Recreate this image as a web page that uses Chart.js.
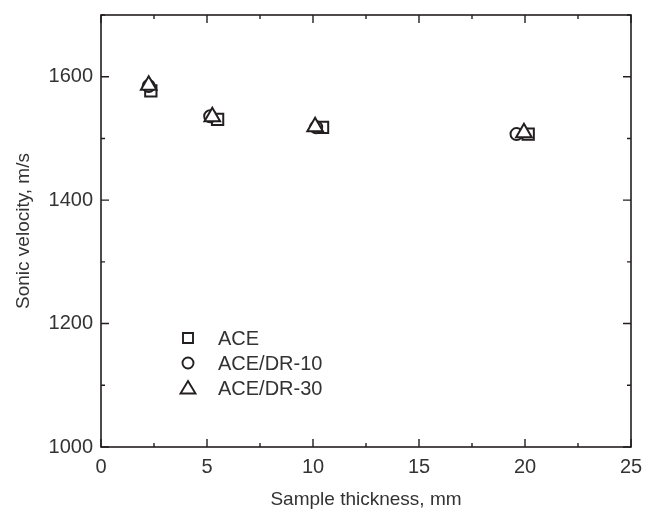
<!DOCTYPE html>
<html>
<head>
<meta charset="utf-8">
<script src="https://cdn.jsdelivr.net/npm/chart.js@4"></script>
<style>
  html, body { margin: 0; padding: 0; background: #fff; }
  #wrap { width: 648px; height: 511px; }
</style>
</head>
<body>
<div id="wrap"><canvas id="myChart" width="648" height="511"></canvas></div>
<script>
// values
const aceX = [2.35, 5.5, 10.45, 20.15];
const aceY = [1577, 1531, 1518, 1507];
const dr10X = [2.25, 5.15, 10.15, 19.6];
const dr10Y = [1585, 1536, 1518, 1507];
const dr30X = [2.25, 5.25, 10.1, 19.95];
const dr30Y = [1586, 1535, 1519, 1509];

const xTicks = [0, 5, 10, 15, 20, 25];
const xMinor = [2.5, 7.5, 12.5, 17.5, 22.5];
const yTicks = [1000, 1200, 1400, 1600];
const yMinor = [1100, 1300, 1500, 1700];

const seriesNames = ['ACE', 'ACE/DR-10', 'ACE/DR-30'];

const ink = '#231f20';
const fontFamily = '"Liberation Sans", Arial, sans-serif';

function toPoints(xs, ys) {
    return xs.map((x, i) => ({ x: x, y: ys[i] }));
}

// frame + inward ticks on all four sides
const framePlugin = {
    id: 'frame',
    afterDatasetsDraw(chart) {
        const ctx = chart.ctx;
        const a = chart.chartArea;
        const xs = chart.scales.x;
        const ys = chart.scales.y;
        ctx.save();
        ctx.strokeStyle = ink;
        ctx.lineWidth = 1.6;
        ctx.strokeRect(a.left, a.top, a.right - a.left, a.bottom - a.top);
        ctx.lineWidth = 1.4;
        ctx.beginPath();
        const tickX = (v, len) => {
            const px = xs.getPixelForValue(v);
            ctx.moveTo(px, a.bottom); ctx.lineTo(px, a.bottom - len);
            ctx.moveTo(px, a.top); ctx.lineTo(px, a.top + len);
        };
        const tickY = (v, len) => {
            const py = ys.getPixelForValue(v);
            ctx.moveTo(a.left, py); ctx.lineTo(a.left + len, py);
            ctx.moveTo(a.right, py); ctx.lineTo(a.right - len, py);
        };
        xTicks.forEach(v => tickX(v, 8));
        xMinor.forEach(v => tickX(v, 4));
        yTicks.forEach(v => tickY(v, 8));
        yMinor.forEach(v => tickY(v, 4));
        ctx.stroke();
        ctx.restore();
    }
};

// legend in the lower left of the plot
const legendPlugin = {
    id: 'innerLegend',
    afterDraw(chart) {
        const ctx = chart.ctx;
        const a = chart.chartArea;
        const mx = a.left + 87;
        const tx = a.left + 117;
        ctx.save();
        ctx.font = '20px ' + fontFamily;
        ctx.textBaseline = 'middle';
        ctx.fillStyle = '#333';
        chart.data.datasets.forEach((ds, i) => {
            const y = a.bottom - 109 + i * 25;
            ctx.strokeStyle = ink;
            ctx.lineWidth = 1.9;
            ctx.beginPath();
            if (ds.pointStyle === 'rect') {
                ctx.rect(mx - 5, y - 5, 10, 10);
            } else if (ds.pointStyle === 'circle') {
                ctx.arc(mx, y, 5.5, 0, Math.PI * 2);
            } else {
                ctx.moveTo(mx, y - 7);
                ctx.lineTo(mx + 7.5, y + 5.5);
                ctx.lineTo(mx - 7.5, y + 5.5);
                ctx.closePath();
            }
            ctx.stroke();
            ctx.fillText(ds.label, tx, y + 1);
        });
        ctx.restore();
    }
};

const ctx = document.getElementById('myChart');

new Chart(ctx, {
    type: 'scatter',
    data: {
        datasets: [
            {
                label: seriesNames[0],
                data: toPoints(aceX, aceY),
                pointStyle: 'rect',
                pointRadius: 8,
                borderColor: ink,
                backgroundColor: '#fff',
                borderWidth: 2,
                order: 2
            },
            {
                label: seriesNames[1],
                data: toPoints(dr10X, dr10Y),
                pointStyle: 'circle',
                pointRadius: 6,
                borderColor: ink,
                backgroundColor: '#fff',
                borderWidth: 2,
                order: 1
            },
            {
                label: seriesNames[2],
                data: toPoints(dr30X, dr30Y),
                pointStyle: 'triangle',
                pointRadius: 9,
                borderColor: ink,
                backgroundColor: '#fff',
                borderWidth: 2,
                order: 0
            }
        ]
    },
    options: {
        responsive: false,
        animation: false,
        layout: { padding: { top: 15, right: 17, left: 0, bottom: 0 } },
        plugins: {
            legend: { display: false },
            tooltip: { enabled: false }
        },
        scales: {
            x: {
                type: 'linear',
                min: 0,
                max: 25,
                afterBuildTicks: scale => { scale.ticks = xTicks.map(v => ({ value: v })); },
                afterFit: scale => {
                    scale.height = 64;
                    scale.paddingLeft = 0;
                    scale.paddingRight = 0;
                },
                grid: { display: false, drawTicks: false },
                border: { display: false },
                ticks: {
                    color: '#333',
                    padding: 8,
                    maxRotation: 0,
                    callback: v => String(v),
                    font: { family: fontFamily, size: 20 }
                },
                title: {
                    display: true,
                    text: 'Sample thickness, mm',
                    color: '#333',
                    padding: { top: 8, bottom: 0 },
                    font: { family: fontFamily, size: 19 }
                }
            },
            y: {
                type: 'linear',
                min: 1000,
                max: 1700,
                afterBuildTicks: scale => { scale.ticks = yTicks.map(v => ({ value: v })); },
                afterFit: scale => {
                    scale.width = 101;
                    scale.paddingTop = 0;
                    scale.paddingBottom = 0;
                },
                grid: { display: false, drawTicks: false },
                border: { display: false },
                ticks: {
                    color: '#333',
                    padding: 8,
                    callback: v => String(v),
                    font: { family: fontFamily, size: 20 }
                },
                title: {
                    display: true,
                    text: 'Sonic velocity, m/s',
                    color: '#333',
                    padding: { top: 12, bottom: 0 },
                    font: { family: fontFamily, size: 19 }
                }
            }
        }
    },
    plugins: [framePlugin, legendPlugin]
});
</script>
</body>
</html>
